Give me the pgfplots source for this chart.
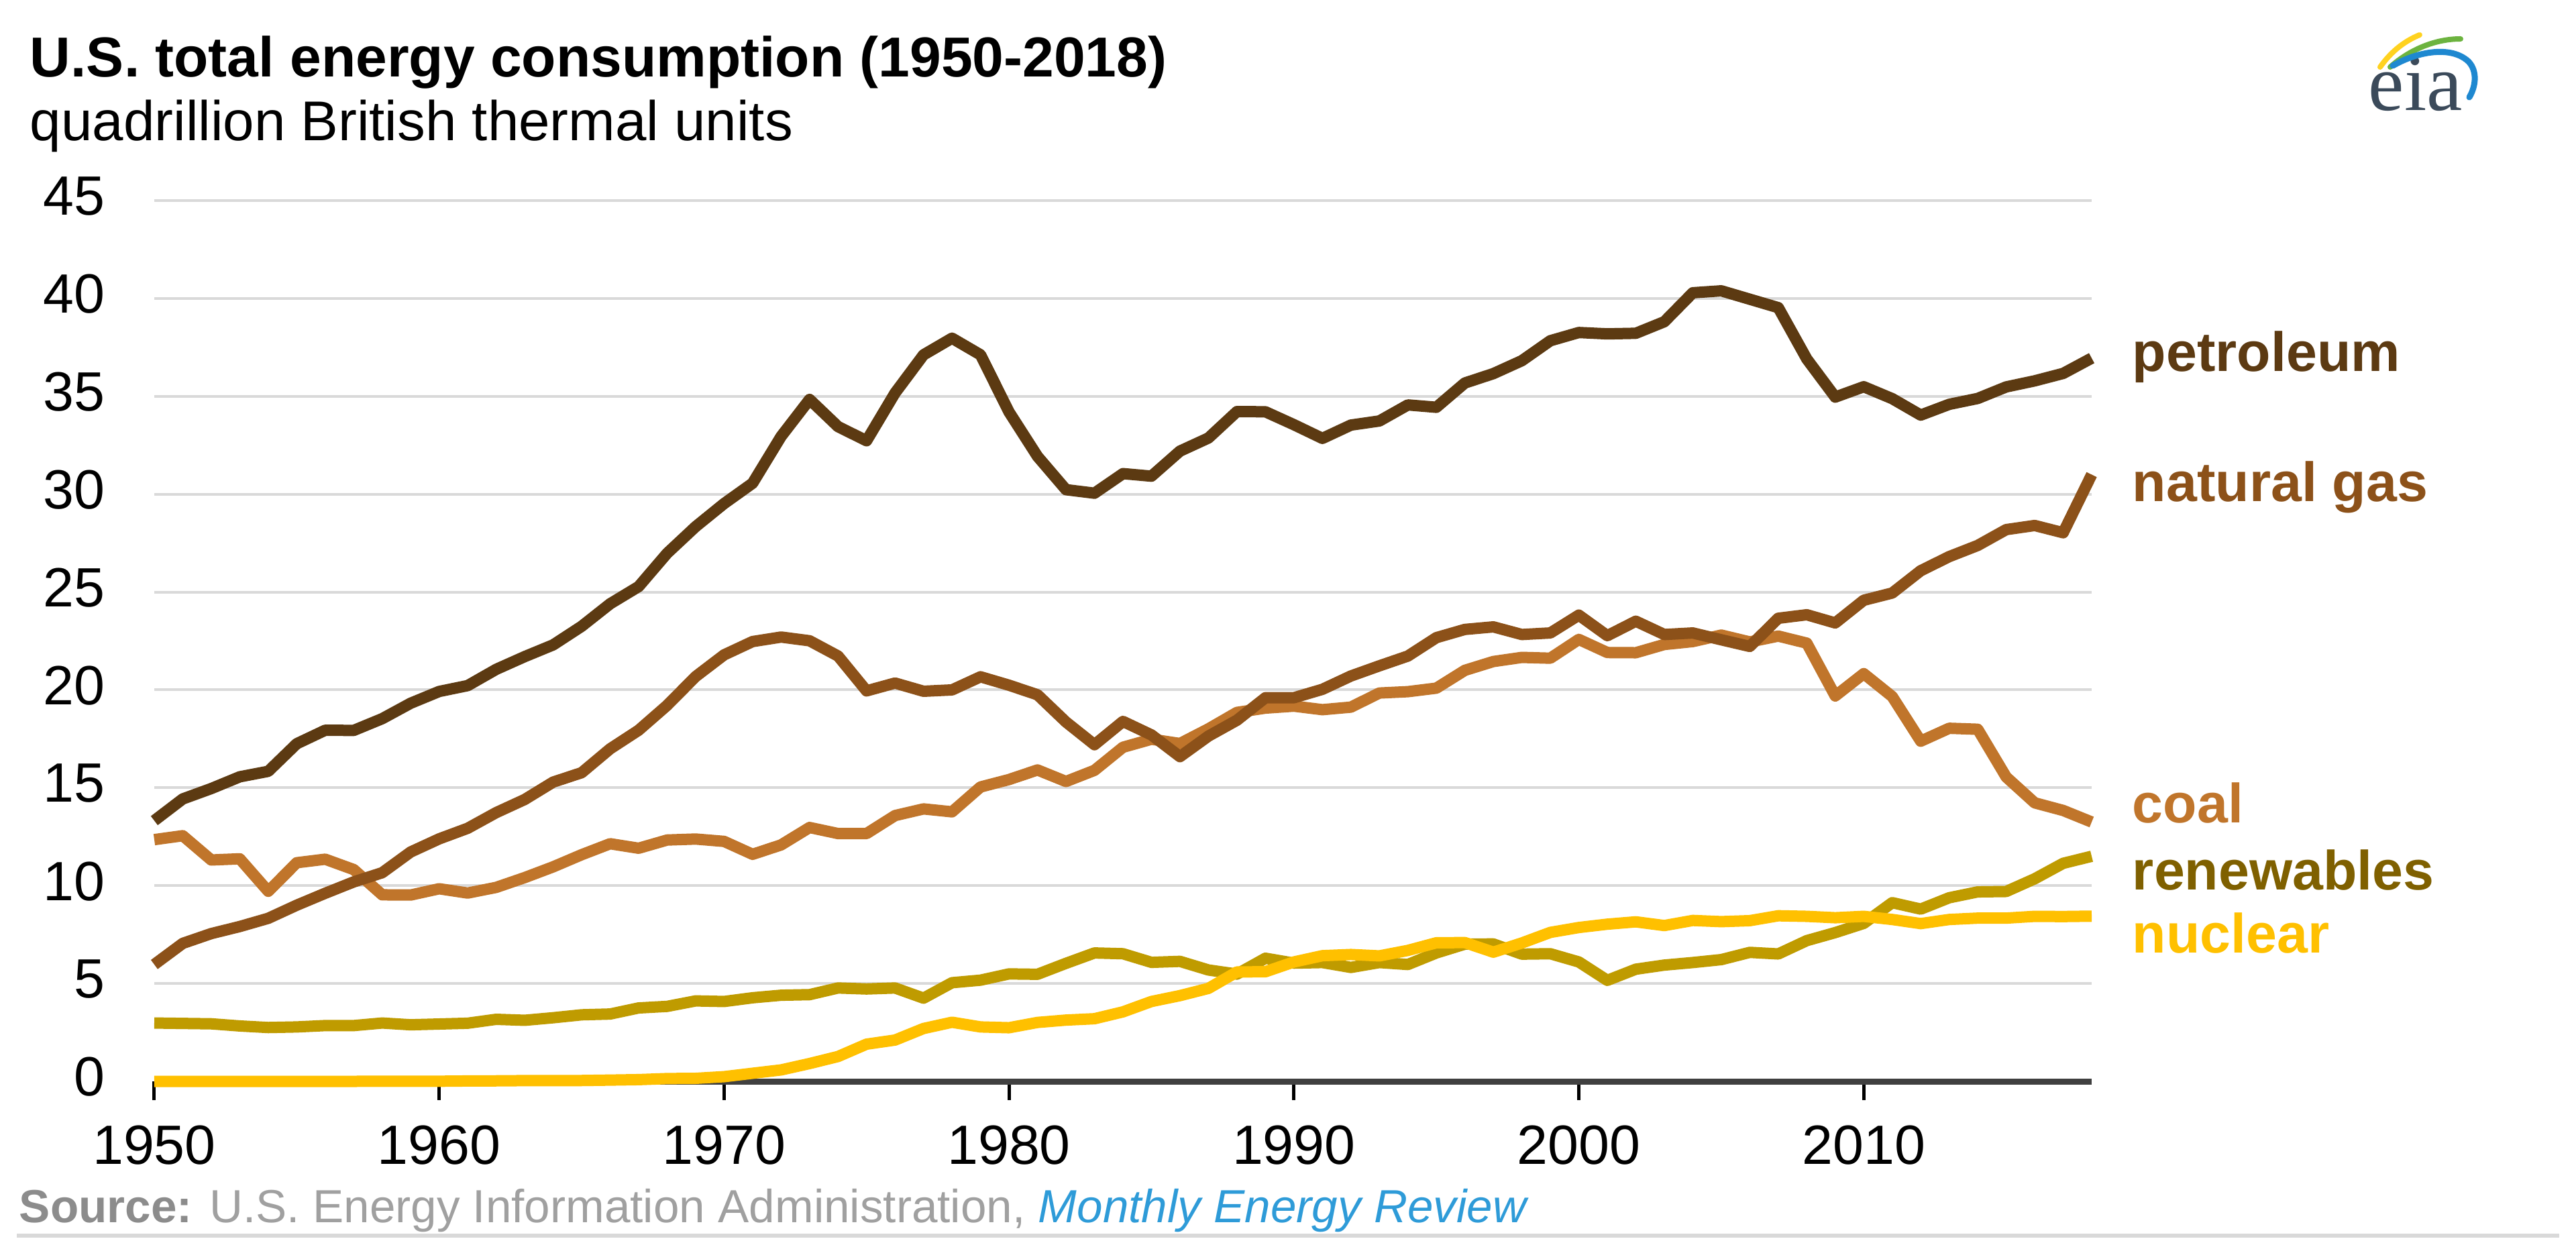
\documentclass[border=0pt]{standalone}
\usepackage{pgfplots}
\usepackage{pgfplotstable}
\pgfplotsset{compat=1.18}
\usepackage{fontspec}
\setmainfont{Liberation Sans}
\newfontfamily\seriffont{Liberation Serif}

\definecolor{petcol}{HTML}{5C3A12}
\definecolor{gascol}{HTML}{8C5119}
\definecolor{coalcol}{HTML}{C0752B}
\definecolor{rencol}{HTML}{BF9B00}
\definecolor{renlab}{HTML}{7F6000}
\definecolor{nuccol}{HTML}{FFC000}
\definecolor{gridcol}{HTML}{D9D9D9}
\definecolor{srcgray}{HTML}{A0A0A0}
\definecolor{srcblue}{HTML}{2E9BD8}
\definecolor{eiatext}{HTML}{3B4A5A}

\pgfplotstableread{
year pet gas coal ren nuc
1950 13.32 5.97 12.35 2.98 0
1951 14.43 7.05 12.55 2.96 0
1952 14.96 7.55 11.31 2.94 0
1953 15.56 7.91 11.37 2.83 0
1954 15.84 8.33 9.71 2.75 0
1955 17.25 9.00 11.17 2.78 0
1956 17.94 9.61 11.35 2.85 0
1957 17.93 10.19 10.82 2.85 0.0001
1958 18.53 10.66 9.53 2.98 0.002
1959 19.32 11.72 9.52 2.89 0.002
1960 19.92 12.39 9.84 2.93 0.006
1961 20.22 12.93 9.62 2.97 0.02
1962 21.05 13.73 9.91 3.17 0.026
1963 21.70 14.40 10.41 3.12 0.038
1964 22.30 15.29 10.96 3.25 0.040
1965 23.25 15.77 11.58 3.40 0.043
1966 24.40 16.99 12.14 3.44 0.064
1967 25.28 17.94 11.91 3.75 0.088
1968 26.98 19.21 12.33 3.83 0.142
1969 28.34 20.68 12.38 4.11 0.154
1970 29.52 21.79 12.26 4.08 0.239
1971 30.56 22.47 11.60 4.27 0.413
1972 32.95 22.70 12.08 4.40 0.584
1973 34.84 22.51 12.97 4.43 0.910
1974 33.45 21.73 12.66 4.77 1.27
1975 32.73 19.95 12.66 4.72 1.90
1976 35.17 20.35 13.58 4.77 2.11
1977 37.12 19.93 13.92 4.25 2.70
1978 37.97 20.00 13.77 5.04 3.02
1979 37.12 20.67 15.04 5.17 2.78
1980 34.20 20.24 15.42 5.49 2.74
1981 31.93 19.75 15.91 5.47 3.01
1982 30.23 18.36 15.32 6.03 3.13
1983 30.05 17.20 15.89 6.56 3.20
1984 31.05 18.39 17.07 6.52 3.55
1985 30.92 17.70 17.48 6.08 4.08
1986 32.20 16.59 17.26 6.13 4.38
1987 32.87 17.64 18.01 5.69 4.75
1988 34.22 18.45 18.85 5.48 5.59
1989 34.21 19.60 19.07 6.29 5.60
1990 33.55 19.60 19.17 6.04 6.10
1991 32.85 20.03 18.99 6.07 6.42
1992 33.53 20.71 19.12 5.82 6.48
1993 33.74 21.23 19.84 6.07 6.41
1994 34.56 21.73 19.91 5.97 6.69
1995 34.44 22.67 20.09 6.56 7.08
1996 35.68 23.09 21.00 7.01 7.09
1997 36.16 23.22 21.45 7.02 6.60
1998 36.82 22.83 21.66 6.50 7.07
1999 37.84 22.91 21.62 6.52 7.61
2000 38.26 23.82 22.58 6.10 7.86
2001 38.19 22.77 21.91 5.16 8.03
2002 38.22 23.51 21.90 5.73 8.15
2003 38.81 22.83 22.32 5.94 7.96
2004 40.29 22.91 22.47 6.07 8.22
2005 40.39 22.56 22.80 6.22 8.16
2006 39.96 22.22 22.45 6.59 8.21
2007 39.53 23.66 22.75 6.51 8.46
2008 36.91 23.84 22.39 7.19 8.43
2009 34.96 23.42 19.69 7.60 8.36
2010 35.49 24.58 20.83 8.07 8.43
2011 34.88 24.95 19.66 9.13 8.27
2012 34.04 26.09 17.38 8.80 8.06
2013 34.59 26.81 18.04 9.38 8.27
2014 34.89 27.38 17.99 9.68 8.34
2015 35.48 28.19 15.55 9.70 8.34
2016 35.79 28.40 14.23 10.35 8.43
2017 36.17 28.03 13.84 11.14 8.42
2018 36.95 31.00 13.25 11.50 8.44
}\energy

\begin{document}
\begin{tikzpicture}
\useasboundingbox (0,0) rectangle (768pt,369.8pt);
\begin{axis}[
  at={(46pt,47.4pt)}, anchor=south west,
  scale only axis, width=577.6pt, height=262.6pt,
  xmin=1950, xmax=2018, ymin=0, ymax=45,
  xtick={1950,1960,...,2010},
  ytick={0,5,...,45},
  axis lines*=left,
  y axis line style={draw=none},
  x axis line style={line width=1.8pt, color=black!75},
  ytick style={draw=none},
  xtick style={black, line width=1pt},
  tick align=outside,
  major tick length=5.5pt,
  ymajorgrids,
  grid style={line width=0.8pt, gridcol},
  /pgf/number format/assume math mode=true,
  /pgf/number format/1000 sep={},
  tick label style={font=\fontsize{16.5}{18}\selectfont, text=black},
  xticklabel style={anchor=north, inner sep=0pt, yshift=-7.5pt},
  yticklabel style={anchor=east, inner sep=0pt, xshift=-9pt, yshift=1.3pt},
  clip=false,
  every axis plot/.append style={line width=3.4pt, line join=round},
]
\addplot[rencol] table[x=year,y=ren]{\energy};
\addplot[nuccol] table[x=year,y=nuc]{\energy};
\addplot[coalcol] table[x=year,y=coal]{\energy};
\addplot[gascol] table[x=year,y=gas]{\energy};
\addplot[petcol] table[x=year,y=pet]{\energy};
\end{axis}

\begin{scope}[shift={(0pt,369.8pt)}, x=0.2pt, y=-0.2pt]
  % title
  \node[anchor=base west, inner sep=0pt] at (44,115)
    {\fontsize{16.8}{18}\selectfont\bfseries U.S. total energy consumption (1950-2018)};
  \node[anchor=base west, inner sep=0pt] at (44,210)
    {\fontsize{16.7}{18}\selectfont quadrillion British thermal units};
  % series labels
  \begin{scope}[every node/.style={anchor=base west, inner sep=0pt, font=\fontsize{16.5}{18}\selectfont\bfseries}]
    \node[text=petcol] at (3178,554) {petroleum};
    \node[text=gascol] at (3178,748) {natural gas};
    \node[text=coalcol] at (3178,1227) {coal};
    \node[text=renlab] at (3178,1327) {renewables};
    \node[text=nuccol] at (3178,1421) {nuclear};
  \end{scope}
  % source
  \node[anchor=base west, inner sep=0pt] at (28,1823)
    {\fontsize{13.85}{15}\selectfont\textcolor{black!45}{\bfseries Source:} \textcolor{srcgray}{U.S. Energy Information Administration,} \textcolor{srcblue}{\itshape Monthly Energy Review}};
  \draw[gridcol, line width=1.3pt] (25,1842) -- (3815,1842);
  % eia logo
  \node[anchor=base west, inner sep=0pt, text=eiatext] at (3530,165)
    {\seriffont\fontsize{24}{24}\selectfont eia};
  \draw[line width=1.6pt, color={rgb,255:red,255;green,210;blue,31}, line cap=round]
    (3548,100) .. controls (3565,76) and (3585,61) .. (3607,52);
  \draw[line width=1.6pt, color={rgb,255:red,108;green,179;blue,63}, line cap=round]
    (3563,100) .. controls (3592,74) and (3630,58) .. (3668,58);
  \draw[line width=1.8pt, color={rgb,255:red,30;green,136;blue,208}, line cap=round]
    (3567,98) .. controls (3605,76) and (3655,68) .. (3680,92) .. controls (3693,106) and (3691,128) .. (3681,145);
\end{scope}
\end{tikzpicture}
\end{document}
